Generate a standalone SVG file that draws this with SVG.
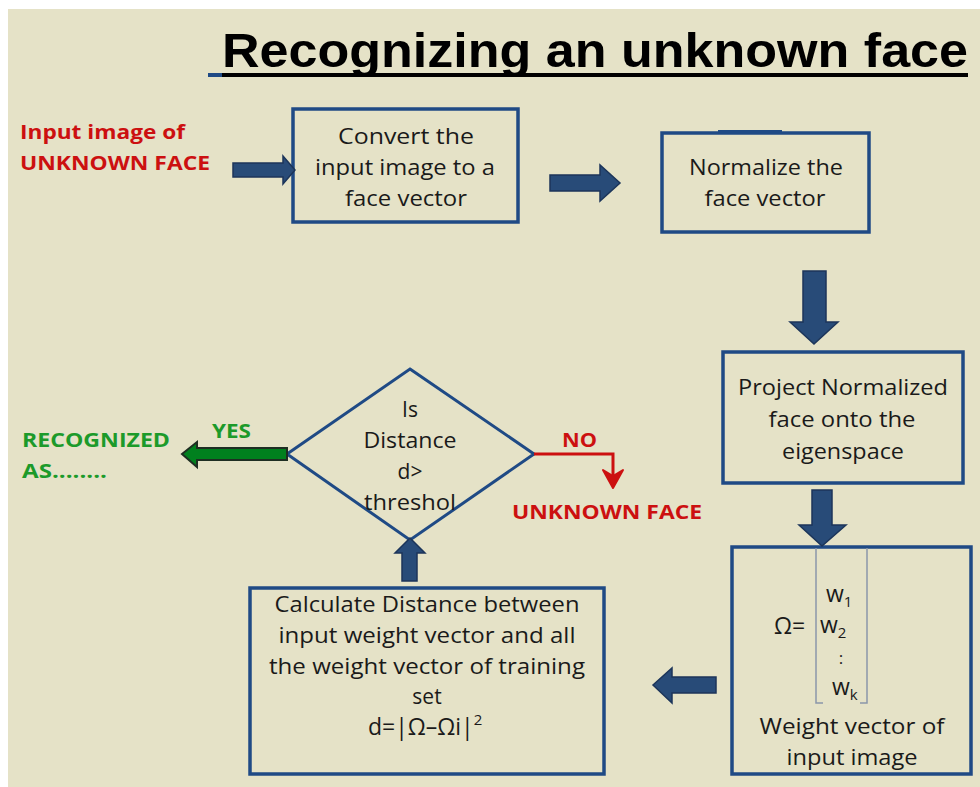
<svg xmlns="http://www.w3.org/2000/svg" width="980" height="787" viewBox="0 0 980 787">
<defs>
<style>
.box{fill:none;stroke:#1F4A85;stroke-width:3.5}
.t{font-family:"Open Sans","Liberation Sans",Arial,sans-serif;font-size:21px;fill:#1a1a1a;text-anchor:middle}
.s{text-anchor:start}
.w{font-size:23px}
.sub{font-size:15px}
.dots{font-size:17px}
.blk{fill:#284B78;stroke:#1C355A;stroke-width:1.5}
.red{font-family:"Open Sans","Liberation Sans",Arial,sans-serif;font-weight:bold;font-size:20px;fill:#CC1010}
.grn{font-family:"Open Sans","Liberation Sans",Arial,sans-serif;font-weight:bold;font-size:20px;fill:#1C9A2A}
</style>
</defs>
<rect x="0" y="0" width="980" height="787" fill="#ffffff"/>
<rect x="8" y="9" width="972" height="778" fill="#E5E2C7"/>

<g id="title">
<text x="222" y="67" font-family="Liberation Sans,Arial,sans-serif" font-weight="bold" font-size="48" fill="#000" textLength="746" lengthAdjust="spacingAndGlyphs">Recognizing an unknown face</text>
<rect x="208" y="73" width="760" height="4" fill="#000"/>
<rect x="208" y="73" width="14" height="4" fill="#1F4A85"/>
</g>

<g id="input-label">
<text class="red" x="20" y="139" textLength="165" lengthAdjust="spacingAndGlyphs">Input image of</text>
<text class="red" x="20" y="170" textLength="190" lengthAdjust="spacingAndGlyphs">UNKNOWN FACE</text>
</g>

<g id="convert">
<rect class="box" x="293" y="109" width="225" height="113"/>
<text class="t" x="406" y="144" textLength="136" lengthAdjust="spacingAndGlyphs">Convert  the</text>
<text class="t" x="405" y="175" textLength="180" lengthAdjust="spacingAndGlyphs">input image to a</text>
<text class="t" x="406" y="206" textLength="122" lengthAdjust="spacingAndGlyphs">face vector</text>
</g>

<g id="normalize">
<rect class="box" x="662" y="133" width="207" height="99"/>
<line x1="718" y1="131" x2="782" y2="131" stroke="#1F4A85" stroke-width="2"/>
<text class="t" x="766" y="175" textLength="154" lengthAdjust="spacingAndGlyphs">Normalize the</text>
<text class="t" x="765" y="206" textLength="121" lengthAdjust="spacingAndGlyphs">face vector</text>
</g>

<g id="project">
<rect class="box" x="723" y="352" width="240" height="131"/>
<text class="t" x="843" y="395" textLength="210" lengthAdjust="spacingAndGlyphs">Project Normalized</text>
<text class="t" x="842" y="427" textLength="147" lengthAdjust="spacingAndGlyphs">face onto the</text>
<text class="t" x="843" y="459" textLength="122" lengthAdjust="spacingAndGlyphs">eigenspace</text>
</g>

<g id="weight">
<rect class="box" x="732" y="547" width="239" height="227"/>
<path d="M823 703 H816 V548 M860 703 H867 V548" fill="none" stroke="#8A97AA" stroke-width="1.5"/>
<text class="t s w" x="774" y="634">Ω=</text>
<text class="t s w" x="826" y="602">w<tspan class="sub" dy="5">1</tspan></text>
<text class="t s w" x="820" y="633">w<tspan class="sub" dy="5">2</tspan></text>
<text class="t dots" x="841" y="664">:</text>
<text class="t s w" x="832" y="695">w<tspan class="sub" dy="5">k</tspan></text>
<text class="t" x="852" y="734" textLength="185" lengthAdjust="spacingAndGlyphs">Weight vector of</text>
<text class="t" x="852" y="765" textLength="131" lengthAdjust="spacingAndGlyphs">input image</text>
</g>

<g id="calculate">
<rect class="box" x="250" y="588" width="354" height="186"/>
<text class="t" x="427" y="612" textLength="305" lengthAdjust="spacingAndGlyphs">Calculate Distance between</text>
<text class="t" x="427" y="643" textLength="297" lengthAdjust="spacingAndGlyphs">input weight vector and all</text>
<text class="t" x="427" y="674" textLength="316" lengthAdjust="spacingAndGlyphs">the weight vector of training</text>
<text class="t" x="427" y="704">set</text>
<text class="t s w" x="368" y="735">d=|Ω–Ωi|<tspan class="sub" dy="-10">2</tspan></text>
</g>

<g id="decision">
<polygon points="410,369 534,454 410,540 287,454" fill="none" stroke="#1F4A85" stroke-width="3"/>
<text class="t" x="410" y="417">Is</text>
<text class="t" x="410" y="448" textLength="93" lengthAdjust="spacingAndGlyphs">Distance</text>
<text class="t" x="410" y="479">d&gt;</text>
<text class="t" x="410" y="510" textLength="92" lengthAdjust="spacingAndGlyphs">threshol</text>
</g>

<g id="recognized">
<text class="grn" x="22" y="447" textLength="148" lengthAdjust="spacingAndGlyphs">RECOGNIZED</text>
<text class="grn" x="22" y="478" textLength="85" lengthAdjust="spacingAndGlyphs">AS........</text>
</g>

<g id="unknown">
<text class="red" x="512" y="519" textLength="190" lengthAdjust="spacingAndGlyphs">UNKNOWN FACE</text>
</g>

<g id="connectors">
<polygon class="blk" points="233,163 283,163 283,156 295,170 283,184 283,177 233,177"/>
<polygon class="blk" points="550,175 600,175 600,165 620,183 600,201 600,191 550,191"/>
<polygon class="blk" points="803,271 826,271 826,322 838,322 814,344 790,322 803,322"/>
<polygon class="blk" points="812,490 832,490 832,525 846,525 822,546 799,525 812,525"/>
<polygon class="blk" points="716,677 716,693 672,693 672,703 653,685 672,668 672,677"/>
<polygon class="blk" points="402,581 417,581 417,553 425,553 410,538 395,553 402,553"/>
<polygon points="287,448 287,460 197,460 197,467 182,454 197,442 197,448" fill="#00801E" stroke="#1E2E22" stroke-width="2"/>
<path d="M534 454 H613 V478" fill="none" stroke="#CC1010" stroke-width="3"/>
<polygon points="603,470 613,488 623,470 613,476" fill="#CC1010" stroke="#CC1010" stroke-width="2" stroke-linejoin="round"/>
<text class="grn" x="212" y="438" textLength="39" lengthAdjust="spacingAndGlyphs">YES</text>
<text class="red" x="562" y="447" textLength="35" lengthAdjust="spacingAndGlyphs">NO</text>
</g>
</svg>
